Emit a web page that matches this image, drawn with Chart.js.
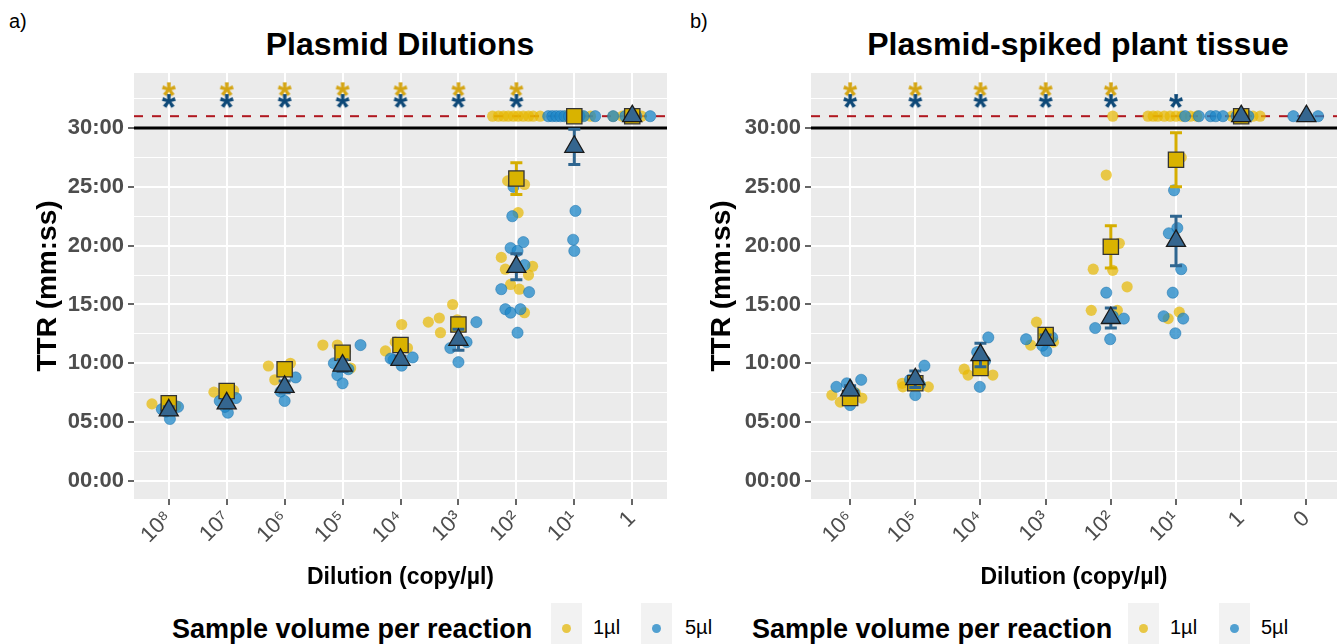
<!DOCTYPE html>
<html>
<head>
<meta charset="utf-8">
<script src="https://cdn.jsdelivr.net/npm/chart.js@4.4.1/dist/chart.umd.min.js"></script>
<style>
  body { margin: 0; width: 1337px; height: 644px; overflow: hidden; position: relative; background: #fff;
         font-family: "Liberation Sans", Arial, sans-serif; }
  .box { position: absolute; top: 0; height: 600px; }
  .txt { position: absolute; white-space: nowrap; color: #000; }
  .title { font-weight: bold; font-size: 32px; top: 26px; transform: translateX(-50%); }
  .tag { font-size: 20px; top: 10px; }
  .legTitle { font-weight: bold; font-size: 27px; top: 614px; }
  .key { position: absolute; top: 603px; width: 31px; height: 45px; background: #F2F2F2; }
  .dot { position: absolute; left: 11px; top: 21px; width: 9px; height: 9px; border-radius: 50%; }
  .legLab { font-size: 20px; top: 616px; }
</style>
</head>
<body>
<div class="txt tag" style="left:9px">a)</div>
<div class="txt tag" style="left:690px">b)</div>
<div class="txt title" style="left:400px">Plasmid Dilutions</div>
<div class="txt title" style="left:1078px">Plasmid-spiked plant tissue</div>

<div class="box" style="left:0;width:670px"><canvas id="chartA"></canvas></div>
<div class="box" style="left:680px;width:657px"><canvas id="chartB"></canvas></div>

<div class="txt legTitle" style="left:172px">Sample volume per reaction</div>
<div class="key" style="left:551px"><div class="dot" style="background:rgb(232,199,70)"></div></div>
<div class="txt legLab" style="left:593px">1µl</div>
<div class="key" style="left:641px"><div class="dot" style="background:rgb(81,160,209)"></div></div>
<div class="txt legLab" style="left:685px">5µl</div>

<div class="txt legTitle" style="left:752px">Sample volume per reaction</div>
<div class="key" style="left:1128px"><div class="dot" style="background:rgb(232,199,70)"></div></div>
<div class="txt legLab" style="left:1170px">1µl</div>
<div class="key" style="left:1219px"><div class="dot" style="background:rgb(81,160,209)"></div></div>
<div class="txt legLab" style="left:1261px">5µl</div>

<script>
// categorías de dilución (copy/µl)
const catsA = ['10⁸', '10⁷', '10⁶', '10⁵', '10⁴', '10³', '10²', '10¹', '1'];
const catsB = ['10⁶', '10⁵', '10⁴', '10³', '10²', '10¹', '1', '0'];

// eje Y en minutos
const yMajor = [0, 5, 10, 15, 20, 25, 30];
const yMinor = [2.5, 7.5, 12.5, 17.5, 22.5, 27.5, 32.5];
const cutoff = 30;   // fin de la reacción
const noAmp = 31;    // sin amplificación

// réplicas individuales [posición x con jitter, TTR en minutos]
const yellowA = [
  [0.71, 6.55], [1.12, 6.4], [0.97, 6.7],
  [1.78, 7.55], [2.12, 7.7], [1.97, 7.5],
  [2.72, 9.77], [3.10, 10.0], [2.83, 8.6], [3.03, 9.3],
  [3.66, 11.55], [3.91, 11.55], [4.14, 9.6], [4.05, 11.0],
  [4.74, 11.05], [5.02, 13.3], [4.91, 11.8], [5.12, 11.3],
  [5.48, 13.5], [5.67, 13.85], [5.90, 15.0], [5.69, 12.6], [5.98, 13.7],
  [6.85, 25.5], [7.14, 25.2], [7.03, 22.8], [6.74, 19.0], [6.81, 18.0], [7.28, 18.25],
  [7.21, 17.5], [6.90, 16.7], [7.05, 16.3], [7.14, 14.3],
  [6.59, 31], [6.69, 31], [6.78, 31], [6.86, 31], [6.95, 31], [7.03, 31], [7.12, 31],
  [7.21, 31], [7.29, 31], [7.41, 31],
  [7.85, 31], [8.0, 31], [8.14, 31], [8.28, 31],
  [8.67, 31], [8.83, 31], [8.93, 31], [9.16, 31]
];
const blueA = [
  [0.88, 6.1], [1.02, 5.27], [1.16, 6.3], [0.95, 5.9],
  [1.88, 6.8], [2.02, 5.8], [2.16, 7.05], [1.97, 6.3],
  [3.19, 8.8], [3.0, 6.8], [2.93, 7.6],
  [4.31, 11.55], [3.85, 10.0], [3.91, 9.0], [4.0, 8.3], [4.10, 9.5],
  [4.88, 10.3], [5.02, 9.8], [5.21, 10.5], [4.83, 10.4],
  [6.31, 13.5], [6.0, 10.1], [5.86, 11.3], [6.14, 11.8],
  [6.95, 25.0], [6.93, 22.5], [7.12, 20.3], [6.90, 19.8], [7.02, 19.55], [7.14, 18.35],
  [6.74, 16.3], [7.22, 16.05], [6.81, 14.6], [6.90, 14.3], [7.07, 14.6], [7.02, 12.6],
  [8.02, 22.95], [7.98, 20.5], [8.0, 19.55],
  [7.55, 31], [7.62, 31], [7.69, 31], [7.76, 31], [7.83, 31], [7.91, 31], [8.09, 31], [8.16, 31], [8.36, 31],
  [8.67, 31], [8.88, 31], [9.07, 31], [9.31, 31]
];
const yellowB = [
  [0.72, 7.3], [0.85, 6.7], [1.18, 7.05], [1.08, 7.5],
  [1.80, 8.3], [1.81, 8.0], [2.20, 8.0], [2.04, 8.5],
  [2.75, 9.5], [2.81, 9.0], [3.19, 9.0], [3.03, 9.8],
  [3.86, 13.5], [3.77, 11.55], [4.12, 11.8], [3.99, 12.3],
  [4.93, 26.0], [5.13, 20.2], [4.73, 18.0], [5.03, 17.9], [5.25, 16.5], [4.70, 14.5], [5.10, 14.5], [5.03, 31],
  [6.08, 27.5], [6.05, 14.35], [5.88, 13.8],
  [5.57, 31], [5.65, 31], [5.72, 31], [5.82, 31], [5.91, 31], [6.0, 31], [6.09, 31], [6.22, 31], [6.32, 31],
  [6.86, 31], [7.06, 31], [7.18, 31], [7.29, 31]
];
const blueB = [
  [0.95, 8.3], [1.17, 8.6], [1.0, 6.45], [0.79, 8.0], [1.06, 7.5],
  [2.14, 9.8], [2.0, 7.3], [1.92, 8.6], [2.07, 8.2],
  [3.12, 12.2], [2.95, 10.95], [2.99, 8.0], [3.07, 10.2],
  [3.70, 12.05], [4.01, 11.05], [4.10, 12.2], [3.95, 11.5],
  [4.93, 16.0], [5.20, 13.8], [4.76, 13.0], [4.99, 12.05], [5.03, 14.0],
  [5.97, 24.7], [6.02, 21.5], [5.89, 21.05], [6.08, 18.0], [5.95, 16.0], [5.81, 14.0], [6.11, 13.8], [5.99, 12.55],
  [6.14, 31], [6.35, 31],
  [6.53, 31], [6.61, 31], [6.72, 31], [6.93, 31], [7.11, 31],
  [7.80, 31], [8.18, 31]
];

// medias y error estándar por categoría
const meanYellowA = [6.6, 7.65, 9.5, 10.9, 11.55, 13.3, 25.7, 31, 31];
const seYellowA   = [0.3, 0.3, 0.4, 0.4, 0.4, 0.4, 1.35, 0, 0];
const meanBlueA   = [6.0, 6.6, 8.0, 9.8, 10.3, 12.0, 18.2, 28.4, 31];
const seBlueA     = [0.3, 0.3, 0.5, 0.5, 0.3, 0.9, 1.1, 1.5, 0];
const meanYellowB = [7.05, 8.3, 9.6, 12.4, 19.9, 27.3, 31, null];
const seYellowB   = [0.3, 0.3, 0.3, 0.4, 1.8, 2.3, 0, null];
const meanBlueB   = [7.7, 8.65, 10.7, 12.0, 13.85, 20.4, 31, 31];
const seBlueB     = [0.4, 0.7, 1.0, 0.4, 0.85, 2.1, 0, 0];

// categorías con diferencia significativa (asteriscos)
const sigYellowA = [1, 2, 3, 4, 5, 6, 7];
const sigBlueA   = [1, 2, 3, 4, 5, 6, 7];
const sigYellowB = [1, 2, 3, 4, 5];
const sigBlueB   = [1, 2, 3, 4, 5, 6];
const starYellowLevel = 33.45;
const starBlueLevel = 32.45;

const FONT = '"Liberation Sans", Arial, "DejaVu Sans", sans-serif';

// formato mm:ss
function mmss(v) {
  const m = Math.floor(v);
  const s = Math.round((v - m) * 60);
  return String(m).padStart(2, '0') + ':' + String(s).padStart(2, '0');
}

// asterisco dibujado en un canvas para usarlo como pointStyle
function asterisco(color) {
  const c = document.createElement('canvas');
  c.width = 34; c.height = 34;
  const g = c.getContext('2d');
  g.fillStyle = color;
  g.font = 'bold 36px ' + FONT;
  g.textAlign = 'center';
  g.textBaseline = 'alphabetic';
  g.fillText('*', 17, 17 + 0.575 * 36);
  return c;
}

// fondo gris del panel
const fondoPanel = {
  id: 'fondoPanel',
  beforeDraw(chart) {
    const { ctx, chartArea: a } = chart;
    ctx.save();
    ctx.fillStyle = '#EBEBEB';
    ctx.fillRect(a.left, a.top, a.right - a.left, a.bottom - a.top);
    ctx.restore();
  }
};

// líneas de referencia (30:00 sólida y 31:00 discontinua)
const lineasRef = {
  id: 'lineasRef',
  beforeDatasetsDraw(chart) {
    const { ctx, chartArea: a, scales: { y } } = chart;
    ctx.save();
    let py = y.getPixelForValue(cutoff);
    ctx.strokeStyle = '#000';
    ctx.lineWidth = 3;
    ctx.beginPath(); ctx.moveTo(a.left, py); ctx.lineTo(a.right, py); ctx.stroke();
    py = y.getPixelForValue(noAmp);
    ctx.strokeStyle = '#B0171F';
    ctx.lineWidth = 2;
    ctx.setLineDash([9, 9]);
    ctx.beginPath(); ctx.moveTo(a.left, py); ctx.lineTo(a.right, py); ctx.stroke();
    ctx.restore();
  }
};

// barras de error antes de dibujar cada media
const barrasError = {
  id: 'barrasError',
  beforeDatasetDraw(chart, args) {
    const ds = chart.data.datasets[args.index];
    if (!ds.errorColor) return;
    const { ctx, scales: { x, y } } = chart;
    ctx.save();
    ctx.strokeStyle = ds.errorColor;
    ctx.lineWidth = 3;
    ds.data.forEach(p => {
      if (!p.e) return;
      const px = x.getPixelForValue(p.x);
      const y1 = y.getPixelForValue(p.y - p.e);
      const y2 = y.getPixelForValue(p.y + p.e);
      ctx.beginPath();
      ctx.moveTo(px, y1); ctx.lineTo(px, y2);
      ctx.moveTo(px - 6, y1); ctx.lineTo(px + 6, y1);
      ctx.moveTo(px - 6, y2); ctx.lineTo(px + 6, y2);
      ctx.stroke();
    });
    ctx.restore();
  }
};

function medias(means, ses) {
  const out = [];
  means.forEach((m, i) => { if (m !== null) out.push({ x: i + 1, y: m, e: ses[i] }); });
  return out;
}

function crearGrafico(id, cfg) {
  const yTicks = yMajor.concat(yMinor).sort((a, b) => a - b);
  return new Chart(document.getElementById(id), {
    type: 'scatter',
    data: {
      datasets: [
        { data: cfg.yellow.map(p => ({ x: p[0], y: p[1] })), order: 5,
          pointRadius: 5.6, backgroundColor: 'rgba(231,184,0,0.7)', borderWidth: 0 },
        { data: cfg.blue.map(p => ({ x: p[0], y: p[1] })), order: 4,
          pointRadius: 5.6, backgroundColor: 'rgba(30,135,200,0.75)', borderColor: 'rgba(20,110,170,0.6)', borderWidth: 0.8 },
        { data: medias(cfg.meanY, cfg.seY), order: 3, errorColor: '#D6AE00',
          pointStyle: 'rect', pointRadius: 10.8, backgroundColor: '#D9B300', borderColor: '#333', borderWidth: 1.3 },
        { data: medias(cfg.meanB, cfg.seB), order: 2, errorColor: '#2F6690',
          pointStyle: 'triangle', pointRadius: 11, backgroundColor: '#35668F', borderColor: '#1a1a1a', borderWidth: 1.3 },
        { data: cfg.sigY.map(c => ({ x: c, y: starYellowLevel })), order: 1,
          pointStyle: asterisco('#D4A514'), pointRadius: 10 },
        { data: cfg.sigB.map(c => ({ x: c, y: starBlueLevel })), order: 0,
          pointStyle: asterisco('#0D4877'), pointRadius: 10 }
      ]
    },
    options: {
      responsive: true,
      maintainAspectRatio: false,
      animation: false,
      events: [],
      layout: { autoPadding: false, padding: { top: 73, left: cfg.padLeft, right: cfg.padRight, bottom: 5 } },
      plugins: { legend: { display: false }, tooltip: { enabled: false } },
      scales: {
        x: {
          type: 'linear', min: 0.4, max: cfg.xMax,
          afterBuildTicks: s => { s.ticks = cfg.cats.map((c, i) => ({ value: i + 1 })); },
          afterFit: s => { s.height = 96; s.paddingLeft = 0; s.paddingRight = 0; },
          border: { display: false },
          grid: { color: '#FFFFFF', lineWidth: 2, tickColor: '#333', tickLength: 6, tickWidth: 1.5 },
          ticks: {
            autoSkip: false, minRotation: 45, maxRotation: 45, padding: 1,
            color: '#4D4D4D', font: { family: FONT, size: 22 },
            callback: (v, i) => cfg.cats[i]
          },
          title: { display: true, text: 'Dilution (copy/µl)', color: '#000',
                   font: { family: FONT, size: 23, weight: 'bold' } }
        },
        y: {
          min: -1.53, max: 34.67,
          afterBuildTicks: s => { s.ticks = yTicks.map(v => ({ value: v })); },
          afterFit: s => { s.width = cfg.yWidth; },
          border: { display: false },
          grid: {
            color: '#FFFFFF',
            lineWidth: c => yMajor.includes(c.tick.value) ? 2 : 1,
            tickColor: c => yMajor.includes(c.tick.value) ? '#333' : 'rgba(0,0,0,0)',
            tickLength: 6, tickWidth: 1.5
          },
          ticks: {
            autoSkip: false, padding: 4, color: '#4D4D4D',
            font: { family: FONT, size: 22, weight: 'bold' },
            callback: v => yMajor.includes(v) ? mmss(v) : ''
          },
          title: { display: true, text: 'TTR (mm:ss)', color: '#000',
                   font: { family: FONT, size: 28, weight: 'bold' } }
        }
      }
    },
    plugins: [fondoPanel, lineasRef, barrasError]
  });
}

crearGrafico('chartA', {
  cats: catsA, yellow: yellowA, blue: blueA,
  meanY: meanYellowA, seY: seYellowA, meanB: meanBlueA, seB: seBlueA,
  sigY: sigYellowA, sigB: sigBlueA,
  xMax: 9.6, padLeft: 27, padRight: 3, yWidth: 107
});
crearGrafico('chartB', {
  cats: catsB, yellow: yellowB, blue: blueB,
  meanY: meanYellowB, seY: seYellowB, meanB: meanBlueB, seB: seBlueB,
  sigY: sigYellowB, sigB: sigBlueB,
  xMax: 8.47, padLeft: 21, padRight: 0, yWidth: 110
});
</script>
</body>
</html>
